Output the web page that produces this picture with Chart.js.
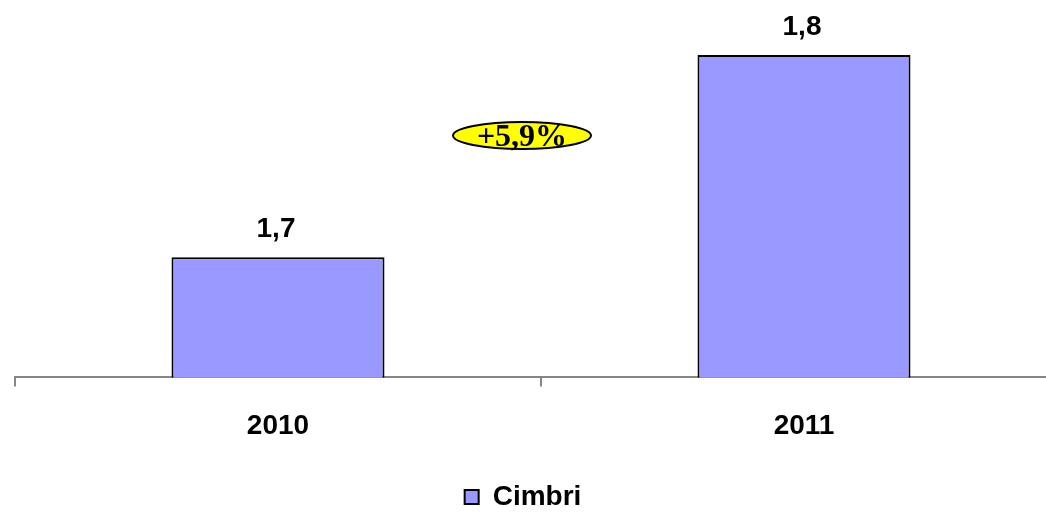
<!DOCTYPE html>
<html lang="it">
<head>
  <meta charset="UTF-8">
  <title>Cimbri 2010-2011</title>
  <script src="https://cdn.jsdelivr.net/npm/chart.js"></script>
  <style>
    html, body {
      margin: 0;
      padding: 0;
      background: #ffffff;
      overflow: hidden;
    }
    #wrap {
      width: 1070px;
      height: 516px;
    }
  </style>
</head>
<body>
  <div id="wrap"><canvas id="chart" width="1070" height="516"></canvas></div>

  <script>
    const years = ['2010', '2011'];
    const cimbri = [1.70, 1.80];
    const valueLabels = ['1,7', '1,8'];
    const growthLabel = '+5,9%';

    const sans = 'Arial, "Liberation Sans", sans-serif';
    const visibleWidth = 1046; // the window is narrower than the canvas

    // value labels above the bars
    const barLabels = {
      id: 'barLabels',
      afterDatasetsDraw(chart) {
        const ctx = chart.ctx;
        const meta = chart.getDatasetMeta(0);
        ctx.save();
        ctx.font = 'bold 28px ' + sans;
        ctx.fillStyle = '#000';
        ctx.textAlign = 'center';
        ctx.textBaseline = 'middle';
        meta.data.forEach((bar, i) => {
          ctx.fillText(valueLabels[i], bar.x - 2, bar.y - 28);
        });
        ctx.restore();
      }
    };

    // yellow ellipse with the growth rate
    const growthBubble = {
      id: 'growthBubble',
      afterDatasetsDraw(chart) {
        const ctx = chart.ctx;
        const x = chart.scales.x;
        const cx = (x.getPixelForValue(0) + x.getPixelForValue(1)) / 2 - 19;
        const cy = 135.5;
        ctx.save();
        ctx.beginPath();
        ctx.ellipse(cx, cy, 69, 13.5, 0, 0, Math.PI * 2);
        ctx.fillStyle = '#ffff00';
        ctx.fill();
        ctx.lineWidth = 2;
        ctx.strokeStyle = '#000';
        ctx.stroke();
        ctx.font = 'bold 32px "Times New Roman", "Liberation Serif", serif';
        ctx.fillStyle = '#000';
        ctx.textAlign = 'center';
        ctx.textBaseline = 'middle';
        ctx.fillText(growthLabel, cx, cy + 2);
        ctx.restore();
      }
    };

    // centre the legend on the visible window, not on the wider canvas
    const legendCentre = {
      id: 'legendCentre',
      afterLayout(chart) {
        const lg = chart.legend;
        lg.left = 0;
        lg.right = visibleWidth;
        lg.width = visibleWidth;
        lg.top += 5;
        lg.bottom += 5;
      }
    };

    new Chart(document.getElementById('chart'), {
      type: 'bar',
      data: {
        labels: years,
        datasets: [{
          label: 'Cimbri',
          data: cimbri,
          backgroundColor: '#9999ff',
          borderColor: '#000000',
          borderWidth: 2,
          categoryPercentage: 1,
          barPercentage: 0.405
        }]
      },
      options: {
        responsive: false,
        animation: false,
        layout: {
          padding: { left: 15, right: 3, top: 20, bottom: 0 }
        },
        plugins: {
          legend: {
            position: 'bottom',
            labels: {
              boxWidth: 14,
              boxHeight: 14,
              padding: 9,
              color: '#000',
              font: { family: sans, size: 28, weight: 'bold' }
            }
          },
          tooltip: { enabled: false }
        },
        scales: {
          x: {
            grid: {
              drawOnChartArea: false,
              drawTicks: true,
              tickLength: 9,
              color: '#868686',
              lineWidth: 2
            },
            border: { color: '#868686', width: 2 },
            ticks: {
              padding: 23,
              color: '#000',
              font: { family: sans, size: 28, weight: 'bold' }
            },
            afterFit(scale) {
              scale.height += 3;
            }
          },
          y: {
            display: false,
            min: 1.6406,
            max: 1.8173
          }
        }
      },
      plugins: [barLabels, growthBubble, legendCentre]
    });
  </script>
</body>
</html>
